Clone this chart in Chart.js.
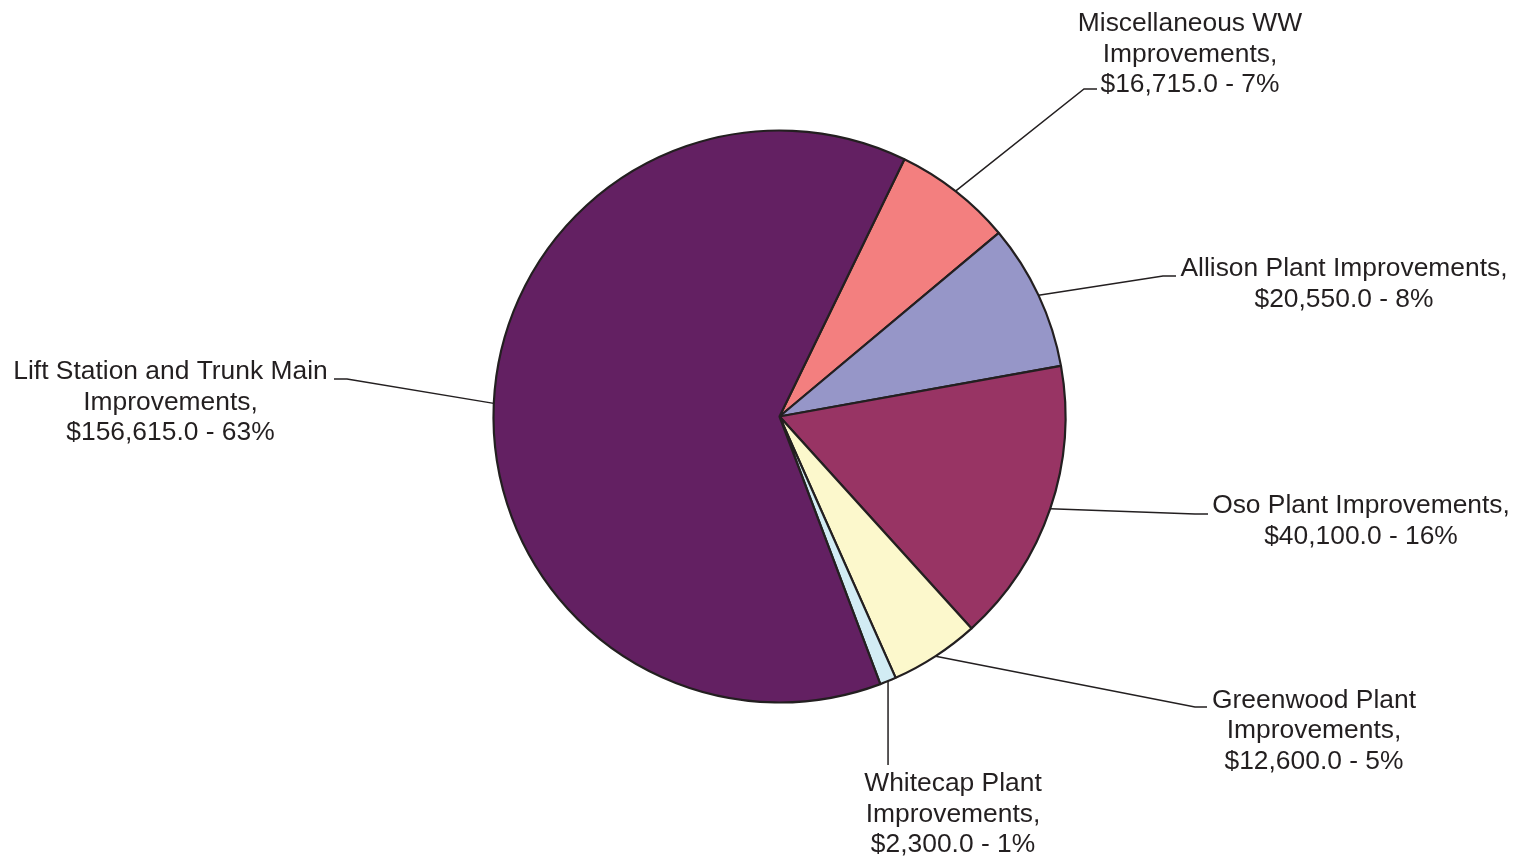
<!DOCTYPE html>
<html><head><meta charset="utf-8">
<script src="https://cdn.jsdelivr.net/npm/chart.js@4"></script>
<style>html,body{margin:0;padding:0;background:#fff;overflow:hidden}canvas{display:block}</style>
</head><body>
<canvas id="c" width="1520" height="861"></canvas>
<script>
// ---- data ----
const categories = ["Miscellaneous WW Improvements","Allison Plant Improvements","Oso Plant Improvements","Greenwood Plant Improvements","Whitecap Plant Improvements","Lift Station and Trunk Main Improvements"];
const values = [16715.0, 20550.0, 40100.0, 12600.0, 2300.0, 156615.0];
const labelLines = [["Miscellaneous WW","Improvements,"],["Allison Plant Improvements,"],["Oso Plant Improvements,"],["Greenwood Plant","Improvements,"],["Whitecap Plant","Improvements,"],["Lift Station and Trunk Main","Improvements,"]];

// ---- styles / layout ----
const colors = ["#F37F7F","#9696C8","#983464","#FCF8CC","#D2ECF4","#632062"];
const ink = "#231F20";
// label layout: text center x, first baseline y, elbow point, tick end x (null = vertical leader)
const labelLayout = [
  {tx:1190, ty:31,   ex:1084, ey:89,  tick:1097},
  {tx:1344, ty:276,  ex:1163, ey:276, tick:1176},
  {tx:1361, ty:513,  ex:1195, ey:514, tick:1208},
  {tx:1314, ty:707.5,ex:1195, ey:707, tick:1207},
  {tx:953,  ty:791,  ex:null, ey:765, tick:null},
  {tx:170.5,ty:379,  ex:347,  ey:379, tick:334}
];
const FONT = '26.4px "Liberation Sans", Arial, sans-serif';
const LINE_H = 30.5;

const total = values.reduce((a,b)=>a+b,0);
function fmtMoney(v){return "$" + v.toLocaleString("en-US",{minimumFractionDigits:1,maximumFractionDigits:1});}
function labelText(i){
  const pct = Math.round(values[i]/total*100);
  return labelLines[i].concat([fmtMoney(values[i]) + " - " + pct + "%"]);
}

const leaderPlugin = {
  id:'leaders',
  afterDraw(chart){
    const ctx = chart.ctx;
    const meta = chart.getDatasetMeta(0);
    ctx.save();
    ctx.strokeStyle = ink;
    ctx.lineWidth = 1.5;
    ctx.fillStyle = ink;
    ctx.font = FONT;
    ctx.textAlign = 'center';
    ctx.textBaseline = 'alphabetic';
    meta.data.forEach((arc,i)=>{
      const p = arc.getProps(['x','y','startAngle','endAngle','outerRadius'], true);
      const mid = (p.startAngle + p.endAngle)/2;
      const sx = p.x + Math.cos(mid)*p.outerRadius;
      const sy = p.y + Math.sin(mid)*p.outerRadius;
      const L = labelLayout[i];
      ctx.beginPath();
      ctx.moveTo(sx, sy);
      if (L.ex === null) {
        ctx.lineTo(sx, L.ey);
      } else {
        ctx.lineTo(L.ex, L.ey);
        ctx.lineTo(L.tick, L.ey);
      }
      ctx.stroke();
      labelText(i).forEach((t,k)=>{
        ctx.fillText(t, L.tx, L.ty + k*LINE_H);
      });
    });
    ctx.restore();
  }
};

new Chart(document.getElementById('c'), {
  type:'pie',
  data:{
    labels: categories,
    datasets:[{
      data: values,
      backgroundColor: colors,
      borderColor: ink,
      borderWidth: 2.2,
      radius: 286
    }]
  },
  options:{
    responsive:false,
    animation:false,
    events:[],
    rotation: 25.9,
    layout:{padding:{left:39,right:0,top:0,bottom:28}},
    plugins:{legend:{display:false},tooltip:{enabled:false}}
  },
  plugins:[leaderPlugin]
});
</script>
</body></html>
